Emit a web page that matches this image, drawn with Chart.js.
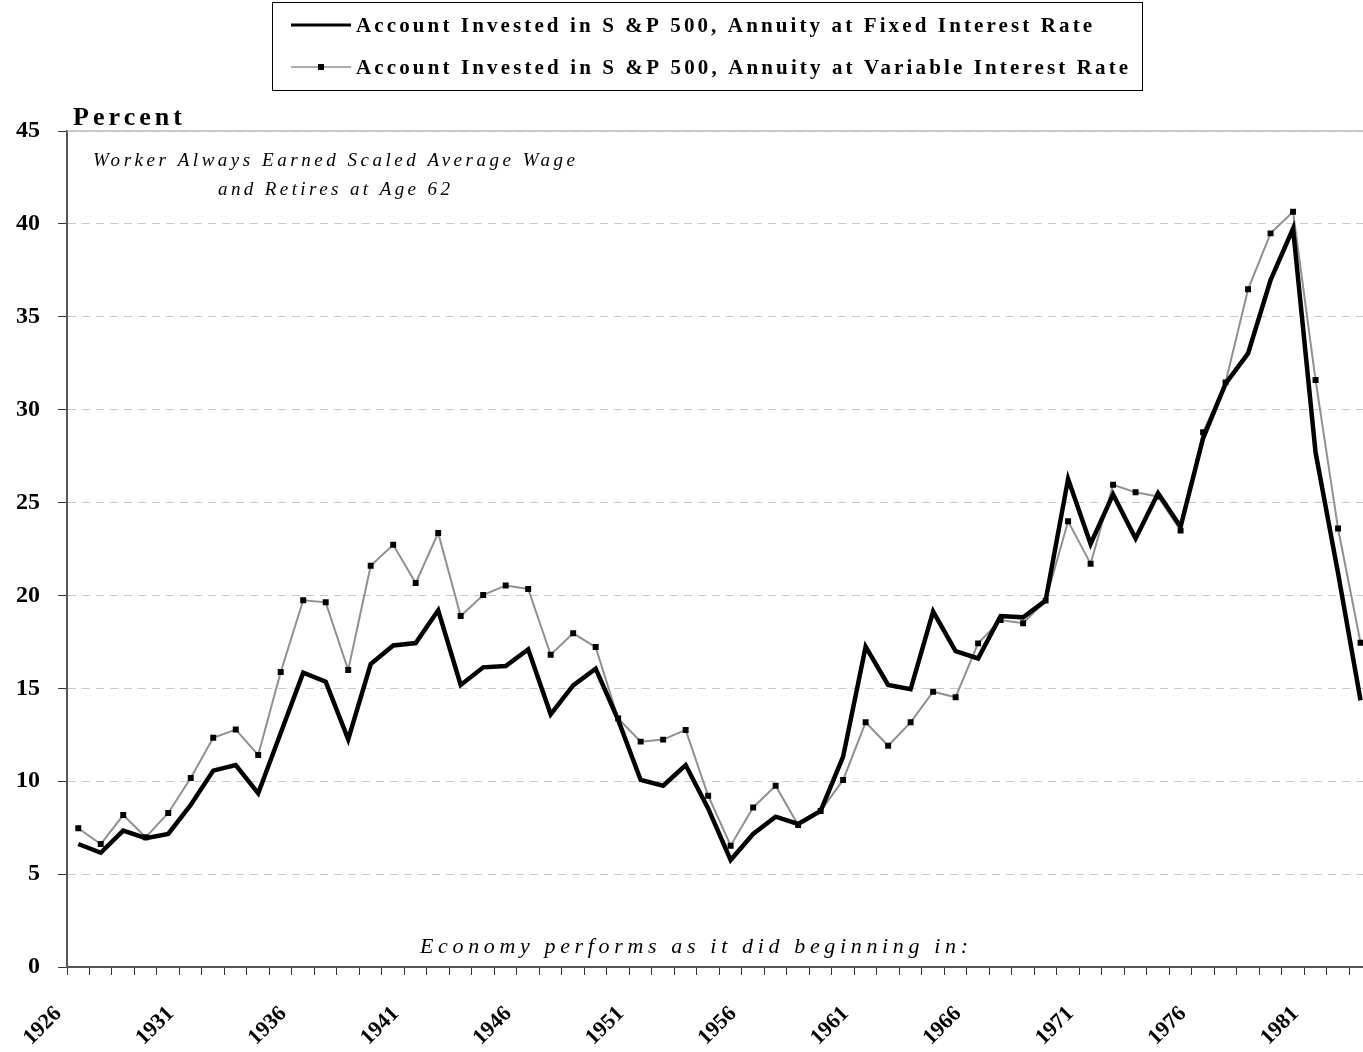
<!DOCTYPE html>
<html lang="en">
<head>
<meta charset="UTF-8" />
<title>Account Invested in S&amp;P 500 — Percent</title>
<script src="https://cdn.jsdelivr.net/npm/chart.js"></script>
<style>
    html, body { margin: 0; padding: 0; background: #fff; overflow: hidden; }
    #wrap { position: relative; width: 1363px; height: 1052px; overflow: hidden; }
    canvas { display: block; }
</style>
</head>
<body>
<div id="wrap"><canvas id="chart" width="1376" height="1052"></canvas></div>
<script>
    // Data (percent), one value per starting year
    const years = ['1926', '1927', '1928', '1929', '1930', '1931', '1932', '1933', '1934', '1935',
        '1936', '1937', '1938', '1939', '1940', '1941', '1942', '1943', '1944', '1945',
        '1946', '1947', '1948', '1949', '1950', '1951', '1952', '1953', '1954', '1955',
        '1956', '1957', '1958', '1959', '1960', '1961', '1962', '1963', '1964', '1965',
        '1966', '1967', '1968', '1969', '1970', '1971', '1972', '1973', '1974', '1975',
        '1976', '1977', '1978', '1979', '1980', '1981', '1982', '1983'];

    const fixedRate = [6.62, 6.15, 7.34, 6.93, 7.16, 8.72, 10.57, 10.87, 9.35, 12.6,
        15.84, 15.36, 12.25, 16.31, 17.31, 17.44, 19.2, 15.18, 16.13, 16.2,
        17.1, 13.6, 15.16, 16.06, 13.3, 10.07, 9.76, 10.87, 8.54, 5.76,
        7.16, 8.09, 7.7, 8.4, 11.32, 17.24, 15.18, 14.95, 19.13, 17.0,
        16.61, 18.89, 18.82, 19.72, 26.27, 22.77, 25.44, 23.07, 25.5, 23.7,
        28.46, 31.4, 33.03, 36.98, 39.75, 27.7, 21.2, 14.35];

    const variableRate = [7.47, 6.62, 8.18, 6.98, 8.29, 10.17, 12.34, 12.78, 11.41, 15.88,
        19.74, 19.63, 15.99, 21.6, 22.73, 20.67, 23.36, 18.89, 20.02, 20.54,
        20.35, 16.81, 17.96, 17.22, 13.38, 12.13, 12.24, 12.76, 9.22, 6.53,
        8.59, 9.76, 7.64, 8.4, 10.07, 13.17, 11.91, 13.17, 14.82, 14.52,
        17.42, 18.68, 18.5, 19.72, 23.99, 21.71, 25.96, 25.55, 25.32, 23.49,
        28.78, 31.47, 36.48, 39.49, 40.65, 31.6, 23.6, 17.45];

    const yearTickLabels = ['1926', '1931', '1936', '1941', '1946', '1951', '1956', '1961', '1966', '1971', '1976', '1981'];
    const yTicks = [0, 5, 10, 15, 20, 25, 30, 35, 40, 45];

    const seriesNames = [
        'Account Invested in S &P 500, Annuity at Fixed Interest Rate',
        'Account Invested in S &P 500, Annuity at Variable Interest Rate'
    ];

    const serif = '"Liberation Serif", "Times New Roman", serif';

    // text with letter spacing stretched to a given width
    function spacedText(ctx, text, x, y, font, width, align) {
        ctx.save();
        ctx.font = font;
        ctx.letterSpacing = '0px';
        const natural = ctx.measureText(text).width;
        const gap = Math.max(0, (width - natural) / (text.length - 1));
        ctx.letterSpacing = gap.toFixed(2) + 'px';
        ctx.textAlign = 'left';
        ctx.textBaseline = 'alphabetic';
        ctx.fillStyle = '#000';
        const left = align === 'center' ? x - width / 2 : x;
        ctx.fillText(text, left, y);
        ctx.restore();
    }

    // Boxed legend: line sample + marker + label
    const boxedLegend = {
        id: 'boxedLegend',
        afterDraw(chart) {
            const ctx = chart.ctx;
            ctx.save();
            ctx.strokeStyle = '#000';
            ctx.lineWidth = 1;
            ctx.strokeRect(272.5, 2.5, 870, 88);

            const rows = [{ y: 25, base: 32, width: 736 }, { y: 67, base: 74, width: 772 }];
            chart.data.datasets.forEach((ds, i) => {
                const r = rows[i];
                ctx.strokeStyle = ds.borderColor;
                ctx.lineWidth = i === 0 ? 3 : 1.5;
                ctx.beginPath();
                ctx.moveTo(291, r.y);
                ctx.lineTo(351, r.y);
                ctx.stroke();
                if (ds.pointRadius > 0) {
                    ctx.fillStyle = ds.pointBackgroundColor;
                    ctx.fillRect(318, r.y - 3, 6, 6);
                }
                spacedText(ctx, ds.label, 356, r.base, 'bold 21px ' + serif, r.width, 'left');
            });
            ctx.restore();
        }
    };

    // Top frame line and the text notes inside the plot
    const notes = {
        id: 'notes',
        beforeDatasetsDraw(chart) {
            const { ctx, chartArea, scales } = chart;
            const top = scales.y.getPixelForValue(yTicks[yTicks.length - 1]);
            ctx.save();
            ctx.strokeStyle = '#bdbdbd';
            ctx.lineWidth = 1.5;
            ctx.beginPath();
            ctx.moveTo(chartArea.left, top);
            ctx.lineTo(chartArea.right, top);
            ctx.stroke();
            ctx.restore();
        },
        afterDraw(chart) {
            const ctx = chart.ctx;
            spacedText(ctx, 'Percent', 73, 125, 'bold 26px ' + serif, 109, 'left');
            spacedText(ctx, 'Worker Always Earned Scaled Average Wage', 334, 166, 'italic 19px ' + serif, 482, 'center');
            spacedText(ctx, 'and Retires at Age 62', 334, 195, 'italic 19px ' + serif, 232, 'center');
            spacedText(ctx, 'Economy performs as it did beginning in:', 694, 953, 'italic 22px ' + serif, 548, 'center');
        }
    };

    const ctx = document.getElementById('chart').getContext('2d');

    new Chart(ctx, {
        type: 'line',
        data: {
            labels: years,
            datasets: [{
                label: seriesNames[0],
                data: fixedRate,
                borderColor: '#000',
                backgroundColor: '#000',
                borderWidth: 4.5,
                pointRadius: 0,
                tension: 0,
                fill: false
            }, {
                label: seriesNames[1],
                data: variableRate,
                borderColor: '#909090',
                backgroundColor: '#000',
                borderWidth: 2,
                pointStyle: 'rect',
                pointRadius: 4.2,
                pointBorderWidth: 0,
                pointBackgroundColor: '#000',
                pointBorderColor: '#000',
                tension: 0,
                fill: false
            }]
        },
        options: {
            responsive: false,
            animation: false,
            layout: { padding: { top: 131, right: 0, bottom: 0, left: 0 } },
            plugins: {
                legend: { display: false },
                tooltip: { enabled: false }
            },
            scales: {
                x: {
                    type: 'category',
                    offset: true,
                    grid: {
                        display: true,
                        drawOnChartArea: false,
                        drawTicks: true,
                        offset: true,
                        tickLength: 8,
                        tickColor: '#333',
                        tickWidth: 1
                    },
                    border: { color: '#555', width: 2 },
                    ticks: {
                        autoSkip: false,
                        minRotation: 45,
                        maxRotation: 45,
                        padding: 26,
                        labelOffset: -20,
                        color: '#000',
                        font: { family: serif, weight: 'bold', size: 22 },
                        callback: function (value) {
                            const label = this.getLabelForValue(value);
                            return yearTickLabels.includes(label) ? label : '';
                        }
                    },
                    afterFit: (scale) => {
                        scale.height = 85;
                        scale.paddingLeft = 0;
                        scale.paddingRight = 0;
                    }
                },
                y: {
                    min: 0,
                    max: 45,
                    afterBuildTicks: (scale) => {
                        scale.ticks = yTicks.map(v => ({ value: v }));
                    },
                    grid: {
                        color: '#c8c8c8',
                        lineWidth: 1,
                        drawTicks: true,
                        tickLength: 9,
                        tickColor: '#333',
                        tickWidth: 1
                    },
                    border: { color: '#555', width: 2, dash: [8, 6] },
                    ticks: {
                        padding: 18,
                        color: '#000',
                        font: { family: serif, weight: 'bold', size: 24 }
                    },
                    afterFit: (scale) => {
                        scale.width = 67;
                    }
                }
            }
        },
        plugins: [notes, boxedLegend]
    });
</script>
</body>
</html>
